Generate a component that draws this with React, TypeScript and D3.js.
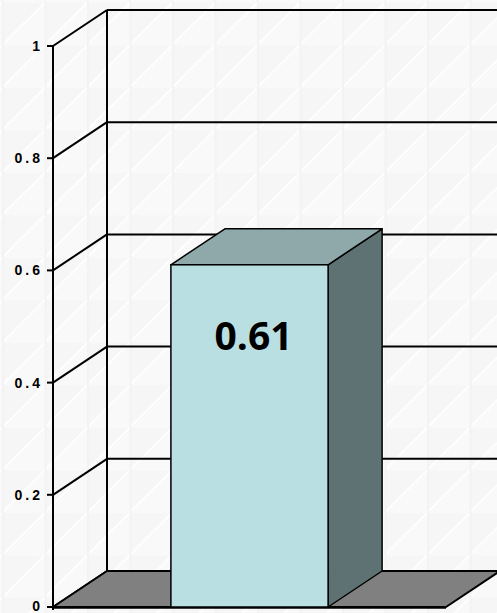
import React from "react";
import * as d3 from "d3";

const categories = ["Series"];
const values = [0.61];
const yTicks = [0, 0.2, 0.4, 0.6, 0.8, 1];
const valueLabels = ["0.61"];

const W = 497;
const H = 613;
const DX = 54;
const DY = -36;

export default function App() {
  const y = d3.scaleLinear().domain([0, 1]).range([607, 46]);
  const x = d3
    .scaleBand<string>()
    .domain(categories)
    .range([53, 446])
    .paddingInner(0)
    .paddingOuter(0.75);
  const x0 = 53;
  const x1 = 446;
  const backRight = W + 20;
  const pts = (a: number[][]) => a.map((p) => p.join(",")).join(" ");

  return (
    <svg
      width={W}
      height={H}
      style={{ position: "absolute", left: 0, top: 0, background: "#fff" }}
    >
      <defs>
        <pattern
          id="bgp"
          patternUnits="userSpaceOnUse"
          width={42.5}
          height={42.5}
          x={2}
          y={3}
        >
          <rect width={42.5} height={42.5} fill="#f6f6f6" />
          <polygon points="2,42.5 42.5,2 42.5,42.5" fill="#f9f9f9" />
          <line x1={0} y1={42.5} x2={42.5} y2={0} stroke="#ffffff" strokeWidth={2} />
          <rect x={0} y={0} width={2} height={42.5} fill="#f3f3f3" />
        </pattern>
      </defs>
      <rect width={W} height={H} fill="url(#bgp)" />

      {/* back wall gridlines */}
      {yTicks.map((t) => (
        <line
          key={"g" + t}
          x1={x0 + DX}
          x2={backRight}
          y1={y(t) + DY}
          y2={y(t) + DY}
          stroke="#000"
          strokeWidth={2}
        />
      ))}
      {/* left wall diagonals */}
      {yTicks.map((t) => (
        <line
          key={"d" + t}
          x1={x0}
          y1={y(t)}
          x2={x0 + DX}
          y2={y(t) + DY}
          stroke="#000"
          strokeWidth={2}
        />
      ))}
      {/* back corner */}
      <line
        x1={x0 + DX}
        x2={x0 + DX}
        y1={y(1) + DY}
        y2={y(0) + DY}
        stroke="#000"
        strokeWidth={2}
      />
      {/* floor */}
      <polygon
        points={pts([
          [x0, y(0)],
          [x0 + DX, y(0) + DY],
          [x1 + DX, y(0) + DY],
          [x1, y(0)],
        ])}
        fill="#808080"
        stroke="#000"
        strokeWidth={2}
        strokeLinejoin="round"
      />
      <line
        x1={x1 + DX}
        x2={backRight}
        y1={y(0) + DY}
        y2={y(0) + DY}
        stroke="#000"
        strokeWidth={2}
      />
      {/* y axis */}
      <line x1={x0} x2={x0} y1={y(1)} y2={y(0) + 3} stroke="#000" strokeWidth={2} />
      <line x1={x0} x2={x1} y1={y(0) + 0.5} y2={y(0) + 0.5} stroke="#000" strokeWidth={2.5} />
      {yTicks.map((t) => (
        <g key={"t" + t}>
          <line x1={x0 - 6} x2={x0} y1={y(t)} y2={y(t)} stroke="#000" strokeWidth={2} />
          <text
            x={43}
            y={t === 0 ? y(t) - 1 : y(t)}
            dy="0.36em"
            textAnchor="end"
            fontFamily="Liberation Sans, Arial, sans-serif"
            fontWeight="bold"
            fontSize={14}
            letterSpacing={3}
            fill="#000"
          >
            {String(t)}
          </text>
        </g>
      ))}

      {/* bars */}
      {categories.map((c, i) => {
        const bx = x(c) as number;
        const bw = x.bandwidth();
        const top = y(values[i]);
        const bot = y(0);
        return (
          <g key={c}>
            <polygon
              points={pts([
                [bx + bw, top],
                [bx + bw + DX, top + DY],
                [bx + bw + DX, bot + DY],
                [bx + bw, bot],
              ])}
              fill="#5f7273"
              stroke="#000"
              strokeWidth={1.5}
              strokeLinejoin="round"
            />
            <polygon
              points={pts([
                [bx, top],
                [bx + DX, top + DY],
                [bx + bw + DX, top + DY],
                [bx + bw, top],
              ])}
              fill="#8fa9aa"
              stroke="#000"
              strokeWidth={1.5}
              strokeLinejoin="round"
            />
            <rect
              x={bx}
              y={top}
              width={bw}
              height={bot - top}
              fill="#b9dfe3"
              stroke="#000"
              strokeWidth={1.5}
            />
            <text
              x={bx + bw / 2 + 4}
              y={350}
              textAnchor="middle"
              fontFamily="Open Sans, sans-serif"
              fontWeight="bold"
              fontSize={39}
              fill="#000"
            >
              {valueLabels[i]}
            </text>
          </g>
        );
      })}
    </svg>
  );
}
